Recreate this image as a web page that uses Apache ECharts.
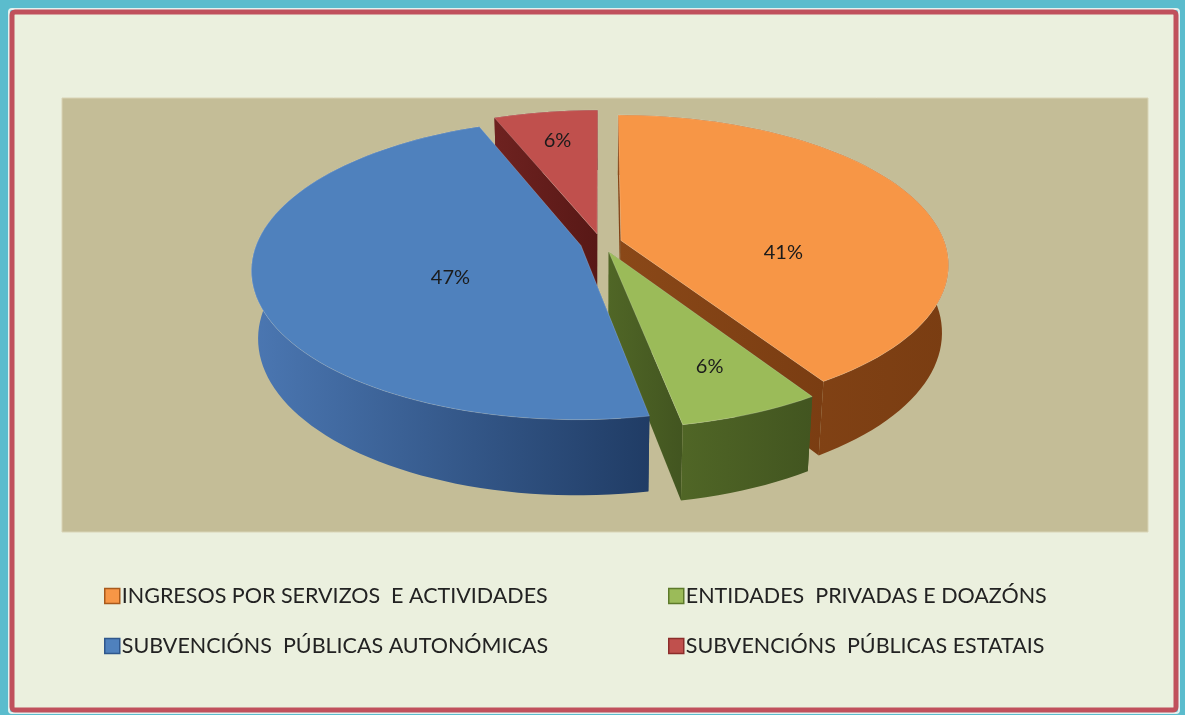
<!DOCTYPE html>
<html>
<head>
<meta charset="utf-8">
<script src="https://cdn.jsdelivr.net/npm/echarts@6/dist/echarts.min.js"></script>
<style>
  html, body { margin: 0; padding: 0; background: #5bbccd; }
  #chart { width: 1185px; height: 715px; }
</style>
</head>
<body>
<div id="chart"></div>
<script>
// categories and values (percent shares)
var names = [
  'INGRESOS POR SERVIZOS  E ACTIVIDADES',
  'ENTIDADES  PRIVADAS E DOAZÓNS',
  'SUBVENCIÓNS  PÚBLICAS AUTONÓMICAS',
  'SUBVENCIÓNS  PÚBLICAS ESTATAIS'
];
var values = [41, 6, 47, 6];

// styling
var topColors = ['#f79646', '#9bbb59', '#4f81bd', '#c0504d'];
var sideColors = [['#8a4818', '#7a3d12'], ['#506626', '#425520'], ['#4b77b2', '#203c65'], ['#6e2220', '#581816']];
var legendBorders = ['#a85a1c', '#5d7a2a', '#2f578c', '#8c2d2b'];
var FONT = 'Lato, "Open Sans", sans-serif';

// 3d projection settings (pixels)
var CX = 601, CY = 243, S = 324;
var SIN_A = 0.45, COS_A = Math.sqrt(1 - SIN_A * SIN_A);
var DIST = 5.68, DEPTH = 0.236, EXPLODE = 0.064;

function proj(X, Y, Z) {
  var yv = Y * COS_A + Z * SIN_A;
  var zv = Z * COS_A - Y * SIN_A;
  var s = DIST / (DIST + zv);
  return [CX + S * X * s, CY - S * yv * s];
}

var total = values.reduce(function (a, b) { return a + b; }, 0);
var starts = [], ends = [];
var acc = 0;
values.forEach(function (v) {
  starts.push(acc / total * Math.PI * 2);
  acc += v;
  ends.push(acc / total * Math.PI * 2);
});

function renderSlice(i) {
  var a0 = starts[i], a1 = ends[i], mid = (a0 + a1) / 2;
  var ox = EXPLODE * Math.sin(mid), oz = EXPLODE * Math.cos(mid);
  var n = Math.max(6, Math.ceil((a1 - a0) / (Math.PI / 90)));
  var topArc = [], botArc = [];
  for (var k = 0; k <= n; k++) {
    var t = a0 + (a1 - a0) * k / n;
    var X = ox + Math.sin(t), Z = oz + Math.cos(t);
    topArc.push(proj(X, 0, Z));
    botArc.push(proj(X, -DEPTH, Z));
  }
  var vTop = proj(ox, 0, oz), vBot = proj(ox, -DEPTH, oz);
  var grad = new echarts.graphic.LinearGradient(0, 0, 1, 0, [
    { offset: 0, color: sideColors[i][0] },
    { offset: 1, color: sideColors[i][1] }
  ]);
  var sideStyle = { fill: grad, stroke: null };

  // label: centre of the top face box for big slices, along the mid angle for thin ones
  var lp;
  if (values[i] / total > 0.2) {
    var face = [vTop].concat(topArc);
    var xs = face.map(function (p) { return p[0]; });
    var ys = face.map(function (p) { return p[1]; });
    lp = [(Math.min.apply(null, xs) + Math.max.apply(null, xs)) / 2,
          (Math.min.apply(null, ys) + Math.max.apply(null, ys)) / 2 + 4];
  } else {
    var f = 0.74;
    lp = proj(ox + f * Math.sin(mid), 0, oz + f * Math.cos(mid));
  }
  var pct = Math.round(values[i] / total * 100) + '%';
  return {
    type: 'group',
    children: [
      { type: 'polygon', z2: 1, shape: { points: [vTop, topArc[0], botArc[0], vBot] }, style: sideStyle },
      { type: 'polygon', z2: 1, shape: { points: [vTop, topArc[n], botArc[n], vBot] }, style: sideStyle },
      { type: 'polygon', z2: 2, shape: { points: topArc.concat(botArc.slice().reverse()) }, style: sideStyle },
      { type: 'polygon', z2: 10, shape: { points: [vTop].concat(topArc) },
        style: { fill: topColors[i], stroke: 'rgba(255,255,255,0.18)', lineWidth: 1 } },
      { type: 'text', z2: 20, style: {
          text: pct, x: lp[0], y: lp[1], textAlign: 'center', textVerticalAlign: 'middle',
          fontSize: 20, fontFamily: FONT, fill: '#1b1b1b' } }
    ]
  };
}

var chart = echarts.init(document.getElementById('chart'));

var series = names.map(function (nm, i) {
  return {
    name: nm,
    type: 'custom',
    coordinateSystem: 'none',
    silent: true,
    animation: false,
    itemStyle: { color: topColors[i] },
    data: [[values[i]]],
    renderItem: function () { return renderSlice(i); }
  };
});

function legendItem(i) {
  return { name: names[i], itemStyle: { borderColor: legendBorders[i], borderWidth: 1.5 } };
}
var legendBase = {
  orient: 'vertical', top: 580, icon: 'rect', itemWidth: 15, itemHeight: 15,
  itemGap: 28, selectedMode: false,
  textStyle: { fontSize: 21.5, lineHeight: 22, color: '#222', fontFamily: FONT, padding: [0, 0, 0, -3] }
};

chart.setOption({
  backgroundColor: '#5bbccd',
  animation: false,
  graphic: [
    { type: 'rect', z: -10, shape: { x: 9, y: 9, width: 1170, height: 704, r: 3 },
      style: { fill: 'none', stroke: '#e3f1ef', lineWidth: 2 } },
    { type: 'rect', z: -10, shape: { x: 12, y: 12, width: 1164, height: 698, r: 3 },
      style: { fill: '#ebf0de', stroke: '#c0515c', lineWidth: 5 } },
    { type: 'rect', z: -9, shape: { x: 62, y: 98, width: 1086, height: 434 },
      style: { fill: '#c4bd97', stroke: '#d9d4b6', lineWidth: 1 } }
  ],
  legend: [
    Object.assign({ left: 99, data: [legendItem(0), legendItem(2)] }, legendBase),
    Object.assign({ left: 663, data: [legendItem(1), legendItem(3)] }, legendBase)
  ],
  series: series
});
</script>
</body>
</html>
